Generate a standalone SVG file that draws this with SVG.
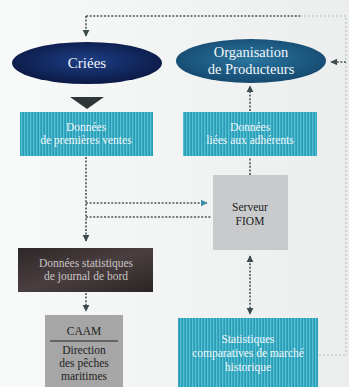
<svg xmlns="http://www.w3.org/2000/svg" width="349" height="387" viewBox="0 0 349 387">
<style>
.dot{fill:none;stroke:#4a5558;stroke-width:1.6;stroke-dasharray:2 1.6}
.faint{fill:none;stroke:#b4bec1;stroke-width:1.1;stroke-dasharray:2 2}
.t{font-family:"Liberation Serif","DejaVu Serif",serif;text-anchor:middle}
.w{fill:#f2f6f8}
.k{fill:#222}
</style>
<defs>
<linearGradient id="bg" x1="0" y1="0" x2="1" y2="0">
<stop offset="0" stop-color="#f8f9f9"/><stop offset="1" stop-color="#eceeee"/>
</linearGradient>
<pattern id="stripes" width="3" height="10" patternUnits="userSpaceOnUse">
<rect width="3" height="10" fill="#2a9db6"/><rect width="1.3" height="10" fill="#55c0d4"/>
</pattern>
<radialGradient id="criees" cx="0.5" cy="0.45" r="0.6">
<stop offset="0" stop-color="#1d3f86"/><stop offset="1" stop-color="#0a1640"/>
</radialGradient>
<radialGradient id="orga" cx="0.5" cy="0.45" r="0.6">
<stop offset="0" stop-color="#2a76a0"/><stop offset="1" stop-color="#14466c"/>
</radialGradient>
<linearGradient id="dark" x1="0" y1="0" x2="1" y2="1">
<stop offset="0" stop-color="#2e2628"/><stop offset="0.5" stop-color="#4a3f40"/><stop offset="1" stop-color="#2a2425"/>
</linearGradient>
<marker id="ah" viewBox="0 0 10 10" refX="9" refY="5" markerWidth="4.5" markerHeight="4.5" orient="auto-start-reverse">
<path d="M0,0 L10,5 L0,10 z" fill="#3d4a4e"/>
</marker>
<marker id="ahc" viewBox="0 0 10 10" refX="9" refY="5" markerWidth="4.5" markerHeight="4.5" orient="auto">
<path d="M0,0 L10,5 L0,10 z" fill="#3a8fa8"/>
</marker>
</defs>
<rect width="349" height="387" fill="url(#bg)"/>

<g id="connectors">
<path class="dot" d="M86,16 H300"/>
<path class="faint" d="M300,16 H346 V355"/>
<path class="dot" d="M86,16 V36" marker-end="url(#ah)"/>
<path class="dot" d="M346,62 H331" stroke="#7f8b8e" marker-end="url(#ah)"/>
<polygon points="70,97 104,97 87,109" fill="#2f3638"/>
<path class="dot" d="M250,111 V86" marker-end="url(#ah)"/>
<path class="dot" d="M250,175 V157"/>
<path class="dot" d="M86,157 V241" marker-end="url(#ah)"/>
<path class="dot" d="M86,203 H207" marker-end="url(#ahc)"/>
<path class="dot" d="M86,217 H212"/>
<path class="dot" d="M86,293 V311" marker-end="url(#ah)"/>
<path class="dot" d="M250,256 V314" marker-start="url(#ah)" marker-end="url(#ah)"/>
<path class="faint" d="M319,355 H346"/>
</g>

<g id="criees">
<ellipse cx="87" cy="63" rx="75" ry="21" fill="url(#criees)"/>
<text class="t w" x="87" y="68" font-size="15">Criées</text>
</g>

<g id="organisation">
<ellipse cx="251" cy="61" rx="75" ry="22" fill="url(#orga)"/>
<text class="t w" x="251" y="57" font-size="14.5">Organisation</text>
<text class="t w" x="251" y="74" font-size="14.5">de Producteurs</text>
</g>

<g id="premieres-ventes">
<rect x="20" y="112" width="133" height="44" fill="url(#stripes)"/>
<text class="t w" x="86" y="131" font-size="11.5">Données</text>
<text class="t w" x="86" y="144" font-size="11.5">de premières ventes</text>
</g>

<g id="adherents">
<rect x="183" y="112" width="134" height="44" fill="url(#stripes)"/>
<text class="t w" x="250" y="131" font-size="11.5">Données</text>
<text class="t w" x="250" y="144" font-size="11.5">liées aux adhérents</text>
</g>

<g id="serveur">
<rect x="213" y="175" width="75" height="75" fill="#c9cacb"/>
<text class="t k" x="250" y="211" font-size="11.5">Serveur</text>
<text class="t k" x="250" y="225" font-size="11.5">FIOM</text>
</g>

<g id="journal">
<rect x="18" y="248" width="135" height="44" fill="url(#dark)"/>
<text class="t" fill="#c9c4c4" x="86" y="267" font-size="11.5">Données statistiques</text>
<text class="t" fill="#c9c4c4" x="86" y="280" font-size="11.5">de journal de bord</text>
</g>

<g id="caam">
<rect x="45" y="315" width="78" height="72" fill="#a6a6a6"/>
<text class="t k" x="84" y="335" font-size="11.5">CAAM</text>
<line x1="50" y1="341" x2="118" y2="341" stroke="#222" stroke-width="1"/>
<text class="t k" x="84" y="354" font-size="11.5">Direction</text>
<text class="t k" x="84" y="367" font-size="11.5">des pêches</text>
<text class="t k" x="84" y="380" font-size="11.5">maritimes</text>
</g>

<g id="statistiques">
<rect x="178" y="318" width="140" height="69" fill="url(#stripes)"/>
<text class="t w" x="248" y="343" font-size="11.5">Statistiques</text>
<text class="t w" x="248" y="357" font-size="11.5">comparatives de marché</text>
<text class="t w" x="248" y="371" font-size="11.5">historique</text>
</g>
</svg>
